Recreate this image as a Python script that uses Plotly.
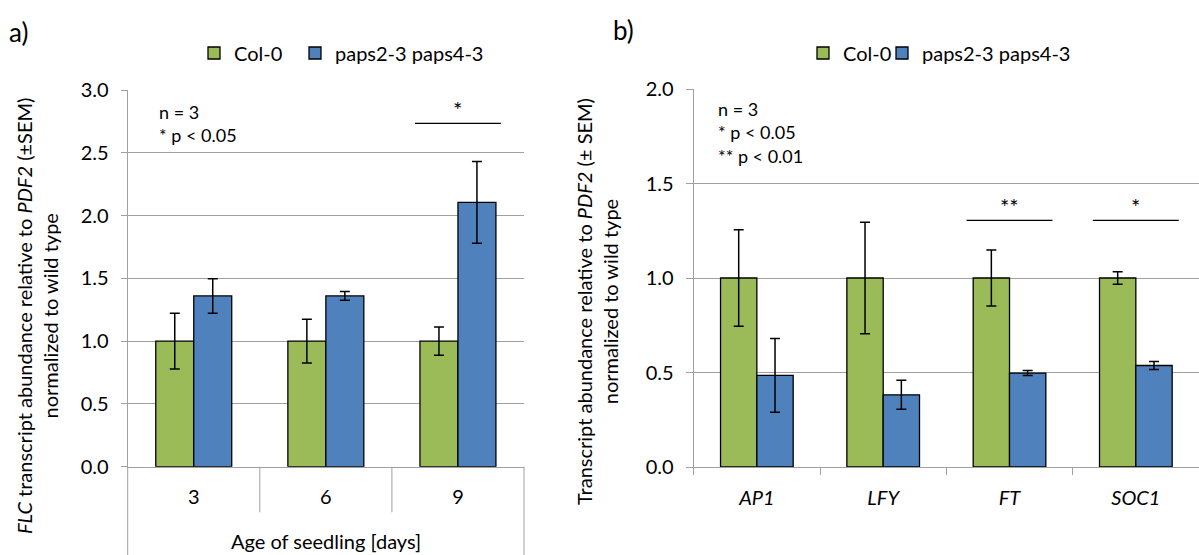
import plotly.graph_objects as go

# ---- panel a: FLC transcript abundance by seedling age ----
ages = ["3", "6", "9"]
flc_col0 = [1.0, 1.0, 1.0]
flc_col0_sem = [0.222, 0.174, 0.113]
flc_paps = [1.36, 1.36, 2.105]
flc_paps_sem = [0.137, 0.035, 0.325]
sig_a = [("9", "*")]

# ---- panel b: flowering-time genes ----
genes = ["AP1", "LFY", "FT", "SOC1"]
gene_col0 = [1.0, 1.0, 1.0, 1.0]
gene_col0_sem = [0.255, 0.295, 0.148, 0.033]
gene_paps = [0.485, 0.382, 0.497, 0.537]
gene_paps_sem = [0.195, 0.077, 0.013, 0.021]
sig_b = [("FT", "**"), ("SOC1", "*")]

series_names = ["Col-0", "paps2-3 paps4-3"]

W, H = 1199, 555
GREEN = "#9BBB59"
BLUE = "#4F81BD"
GRID = "#A0A0A0"
FONT = "Lato"


def fx(p):
    return p / W


def fy(p):
    return 1 - p / H


def bar(x, y, err, name, color, xa, ya, legend):
    return go.Bar(
        x=x, y=y, name=name, xaxis=xa, yaxis=ya, legend=legend, showlegend=True,
        marker=dict(color=color, line=dict(color="black", width=1.3)),
        error_y=dict(type="data", array=err, visible=True, color="black",
                     thickness=1.5, width=5),
    )


fig = go.Figure()
fig.add_trace(bar(ages, flc_col0, flc_col0_sem, series_names[0], GREEN, "x", "y", "legend"))
fig.add_trace(bar(ages, flc_paps, flc_paps_sem, series_names[1], BLUE, "x", "y", "legend2"))
fig.add_trace(bar(genes, gene_col0, gene_col0_sem, series_names[0], GREEN, "x2", "y2", "legend3"))
fig.add_trace(bar(genes, gene_paps, gene_paps_sem, series_names[1], BLUE, "x2", "y2", "legend4"))

tickfont = dict(family=FONT, size=20, color="black")
yax_common = dict(
    dtick=0.5, tickformat=".1f", showgrid=True, gridcolor=GRID, gridwidth=1,
    zeroline=False, showline=True, linecolor=GRID, linewidth=1,
    ticks="outside", ticklen=6, tickcolor=GRID, tickfont=tickfont,
    ticklabelstandoff=8, fixedrange=True, automargin=False,
)

legend_common = dict(orientation="h", yanchor="middle", xanchor="left",
                     y=fy(53), bgcolor="rgba(0,0,0,0)",
                     font=dict(family=FONT, size=20, color="black"))

fig.update_layout(
    width=W, height=H, autosize=False,
    margin=dict(l=0, r=0, t=0, b=0, pad=0, autoexpand=False),
    paper_bgcolor="white", plot_bgcolor="white",
    showlegend=True,
    barmode="group", bargap=0.425, bargroupgap=0,
    font=dict(family=FONT, size=20, color="black"),
    xaxis=dict(domain=[fx(127.7), fx(524)], type="category", showline=True,
               linecolor=GRID, linewidth=1, ticks="", tickfont=tickfont,
               ticklabelstandoff=12, anchor="y", fixedrange=True, automargin=False),
    yaxis=dict(domain=[fy(466.7), fy(90)], range=[0, 3], anchor="x", **yax_common),
    xaxis2=dict(domain=[fx(693.7), 1.0], type="category", showline=True,
                linecolor=GRID, linewidth=1, tickson="boundaries",
                ticks="outside", ticklen=7, tickcolor=GRID,
                tickfont=dict(family=FONT, size=20, color="black", style="italic"),
                ticklabelstandoff=13, anchor="y2", fixedrange=True, automargin=False),
    yaxis2=dict(domain=[fy(467), fy(89)], range=[0, 2], anchor="x2",
                **{**yax_common, "ticklen": 7}),
    legend=dict(x=fx(194), **legend_common),
    legend2=dict(x=fx(295), **legend_common),
    legend3=dict(x=fx(803), **legend_common),
    legend4=dict(x=fx(882), **legend_common),
)

shapes = []
# multi-level category frame under panel a
for i in range(1, len(ages)):
    shapes.append(dict(type="line", xref="x", yref="paper", x0=i - 0.5, x1=i - 0.5,
                       y0=fy(512.3), y1=fy(466.7), line=dict(color=GRID, width=1)))
for xd in (0, 1):
    shapes.append(dict(type="line", xref="x domain", yref="paper", x0=xd, x1=xd,
                       y0=0, y1=fy(466.7), line=dict(color=GRID, width=1)))

annotations = []
# significance bars
for cat, mark in sig_a:
    i = ages.index(cat)
    shapes.append(dict(type="line", xref="x", yref="y", x0=i - 0.325, x1=i + 0.325,
                       y0=2.734, y1=2.734, line=dict(color="black", width=1.3)))
    annotations.append(dict(xref="x", yref="y", x=i, y=2.734, text=mark, showarrow=False,
                            yanchor="bottom", yshift=-2, font=dict(family=FONT, size=22)))
for cat, mark in sig_b:
    i = genes.index(cat)
    shapes.append(dict(type="line", xref="x2", yref="y2", x0=i - 0.34, x1=i + 0.34,
                       y0=1.305, y1=1.305, line=dict(color="black", width=1.3)))
    annotations.append(dict(xref="x2", yref="y2", x=i, y=1.305, text=mark, showarrow=False,
                            yanchor="bottom", yshift=-2, font=dict(family=FONT, size=22)))

# statistics notes
annotations.append(dict(xref="x domain", yref="y domain", x=0.073, y=0.9105,
                        xanchor="left", yanchor="middle", align="left", showarrow=False,
                        text="n = 3<br>* p < 0.05", font=dict(family=FONT, size=18)))
annotations.append(dict(xref="x2 domain", yref="y2 domain", x=0.0435, y=0.8836,
                        xanchor="left", yanchor="middle", align="left", showarrow=False,
                        text="n = 3<br>* p < 0.05<br>** p < 0.01", font=dict(family=FONT, size=18)))

# panel letters
annotations.append(dict(xref="paper", yref="paper", x=fx(7), y=fy(32), xanchor="left",
                        yanchor="middle", text="a)", showarrow=False,
                        font=dict(family=FONT, size=26)))
annotations.append(dict(xref="paper", yref="paper", x=fx(611), y=fy(30), xanchor="left",
                        yanchor="middle", text="b)", showarrow=False,
                        font=dict(family=FONT, size=26)))

# axis titles
annotations.append(dict(xref="paper", yref="paper", x=fx(37), y=fy(316),
                        xanchor="center", yanchor="middle", textangle=-90, showarrow=False,
                        text="<i>FLC</i> transcript abundance relative to <i>PDF2</i> (±SEM)<br>normalized to wild type",
                        font=dict(family=FONT, size=20)))
annotations.append(dict(xref="paper", yref="paper", x=fx(597), y=fy(302),
                        xanchor="center", yanchor="middle", textangle=-90, showarrow=False,
                        text="Transcript abundance relative to <i>PDF2</i> (± SEM)<br>normalized to wild type",
                        font=dict(family=FONT, size=20)))
annotations.append(dict(xref="x domain", yref="paper", x=0.5, y=fy(541),
                        xanchor="center", yanchor="middle", showarrow=False,
                        text="Age of seedling [days]", font=dict(family=FONT, size=20)))

fig.update_layout(shapes=shapes, annotations=annotations)
fig.write_html("out.html")
